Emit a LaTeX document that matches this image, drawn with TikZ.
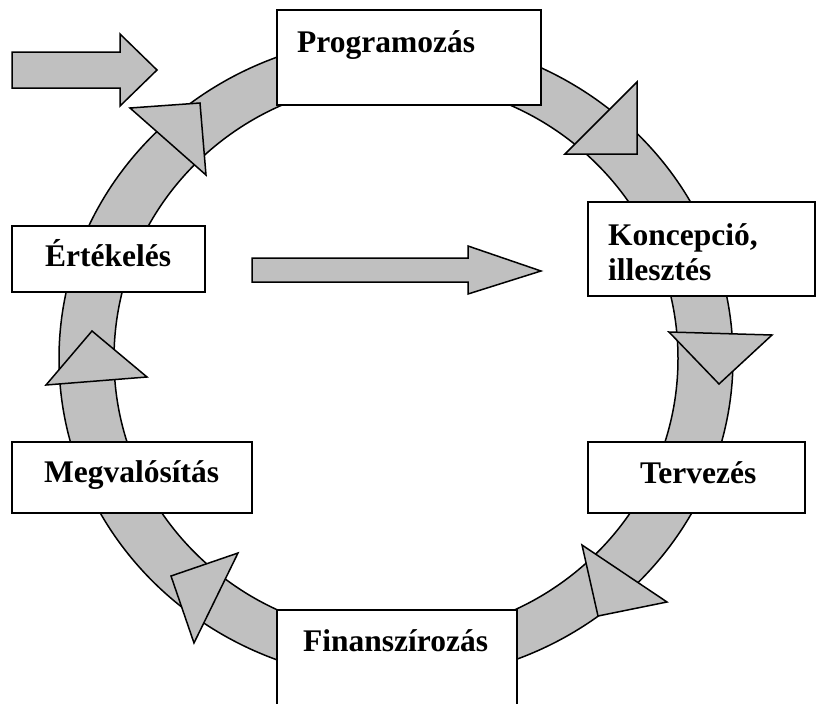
\documentclass[tikz,border=0pt]{standalone}
\usepackage{fontspec}
\setmainfont{Liberation Serif}
\begin{document}
\begin{tikzpicture}[x=1pt,y=-1pt,
  ringfill/.style={fill=shade},
  outline/.style={draw=black,line width=1.5pt,line join=miter},
  tri/.style={outline,fill=shade},
  blockarrow/.style={outline,fill=shade},
  box/.style={draw=black,line width=1.5pt,fill=white},
  label/.style={anchor=base west,inner sep=0pt,font=\fontsize{31.5}{35}\selectfont\bfseries,align=left}]
\definecolor{shade}{HTML}{C0C0C0}
\useasboundingbox (0,0) rectangle (817,704);
\clip (0,0) rectangle (817,704);

% circular band of the cycle
\coordinate (c) at (396,358.5);
\fill[ringfill,even odd rule] (c) ellipse [x radius=337, y radius=322]
  (c) ellipse [x radius=282, y radius=277];
\draw[outline] (c) ellipse [x radius=337, y radius=322];
\draw[outline] (c) ellipse [x radius=282, y radius=277];

% arrowheads showing the clockwise direction
\draw[tri] (130,108) -- (200,103) -- (206,175) -- cycle;
\draw[tri] (565,154) -- (637,82) -- (637,154) -- cycle;
\draw[tri] (669,332) -- (772,335) -- (719,384) -- cycle;
\draw[tri] (582,545) -- (667,602) -- (598,616) -- cycle;
\draw[tri] (238,553) -- (194,643) -- (171,576) -- cycle;
\draw[tri] (46,385) -- (92,331) -- (147,377) -- cycle;

% phase boxes
\path[box] (277,10) rectangle (541,105);
\path[box] (588,202) rectangle (815,296);
\path[box] (12,226) rectangle (205,292);
\path[box] (12,442) rectangle (252,513);
\path[box] (588,442) rectangle (805,513);
\path[box] (277,610) rectangle (517,712);

% phase names
\node[label] (prog) at (297,52) {Programozás};
\node[label] (konc) at (608,245) {Koncepció,};
\node[label] (ill) at (608,280) {illesztés};
\node[label] (ertek) at (45,266) {Értékelés};
\node[label] (megv) at (44,482) {Megvalósítás};
\node[label] (terv) at (640,483) {Tervezés};
\node[label] (fin) at (303,651) {Finanszírozás};

% entry arrow and feedback arrow
\draw[blockarrow] (12,52) -- (120,52) -- (120,34) -- (157,70) -- (120,106) -- (120,88) -- (12,88) -- cycle;
\draw[blockarrow] (252,258) -- (468,258) -- (468,246) -- (541,271) -- (468,294) -- (468,282) -- (252,282) -- cycle;
\end{tikzpicture}
\end{document}
